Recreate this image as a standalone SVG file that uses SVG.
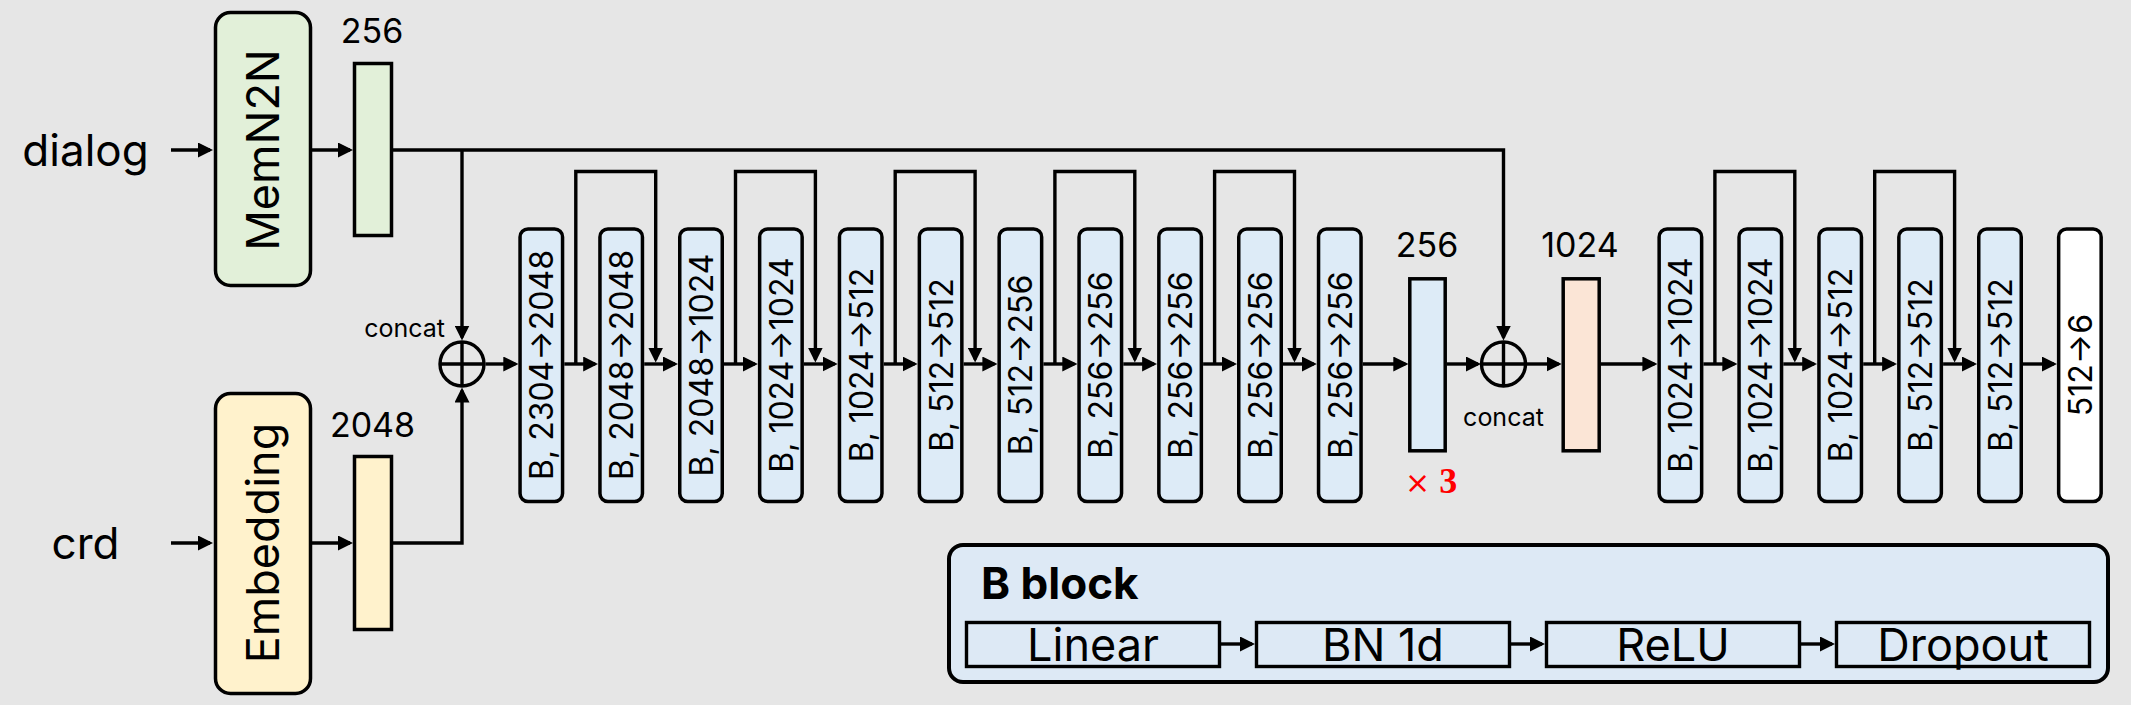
<svg xmlns="http://www.w3.org/2000/svg" width="2131" height="705" viewBox="0 0 2131 705">
<defs>
<style>
.t{font-family:Inter,"Noto Sans","Liberation Sans",sans-serif;fill:#000}
.big{font-size:44px}
.lab{font-size:34px;text-anchor:middle}
.bt{font-size:32px;text-anchor:middle}
.cc{font-size:25px}
.bb{stroke:#000;stroke-width:3.5;fill:#ddebf7}
.vec{stroke:#000;stroke-width:3.5}
.ln{fill:none;stroke:#000;stroke-width:3.4}
.sub{fill:none;stroke:#000;stroke-width:3.4}
</style>
<marker id="ah" viewBox="0 0 15 15" refX="12" refY="7.5" markerWidth="15" markerHeight="15" markerUnits="userSpaceOnUse" orient="auto">
<path d="M0,0 L15,7.5 L0,15 z" fill="#000"/>
</marker>
</defs>
<rect width="2131" height="705" fill="#e6e6e6"/>

<g id="inputs">
<text class="t big" x="85.5" y="166" text-anchor="middle">dialog</text>
<text class="t big" x="85.5" y="559" text-anchor="middle">crd</text>
</g>

<g id="memn2n">
<rect x="215.5" y="12.5" width="95" height="273" rx="15" fill="#e2f0d9" stroke="#000" stroke-width="3.5"/>
<text class="t" font-size="45" text-anchor="middle" transform="translate(263,150) rotate(-90)" y="16">MemN2N</text>
</g>
<g id="embedding">
<rect x="215.5" y="393.5" width="95" height="300" rx="15" fill="#fff2cc" stroke="#000" stroke-width="3.5"/>
<text class="t" font-size="45" text-anchor="middle" transform="translate(263,543) rotate(-90)" y="16">Embedding</text>
</g>

<g id="vec-dialog">
<rect x="354.5" y="63.5" width="37" height="172" fill="#e2f0d9" class="vec"/>
<text class="t lab" x="372" y="43">256</text>
</g>
<g id="vec-crd">
<rect x="354.5" y="456.5" width="37" height="173" fill="#fff2cc" class="vec"/>
<text class="t lab" x="372.5" y="437">2048</text>
</g>

<g id="concat1">
<circle cx="462" cy="364" r="22" fill="none" stroke="#000" stroke-width="3.4"/>
<path d="M462,342 V386 M440,364 H484" class="ln"/>
<text class="t cc" x="445" y="337" text-anchor="end">concat</text>
</g>

<g id="b1"><rect class="bb" x="520.05" y="229" width="42.5" height="272.5" rx="8"/><text class="t bt" transform="translate(541.3,365) rotate(-90)" y="12">B, 2304→2048</text></g>
<g id="b2"><rect class="bb" x="599.95" y="229" width="42.5" height="272.5" rx="8"/><text class="t bt" transform="translate(621.2,365) rotate(-90)" y="12">B, 2048→2048</text></g>
<g id="b3"><rect class="bb" x="679.75" y="229" width="42.5" height="272.5" rx="8"/><text class="t bt" transform="translate(701,365) rotate(-90)" y="12">B, 2048→1024</text></g>
<g id="b4"><rect class="bb" x="759.65" y="229" width="42.5" height="272.5" rx="8"/><text class="t bt" transform="translate(780.9,365) rotate(-90)" y="12">B, 1024→1024</text></g>
<g id="b5"><rect class="bb" x="839.45" y="229" width="42.5" height="272.5" rx="8"/><text class="t bt" transform="translate(860.7,365) rotate(-90)" y="12">B, 1024→512</text></g>
<g id="b6"><rect class="bb" x="919.35" y="229" width="42.5" height="272.5" rx="8"/><text class="t bt" transform="translate(940.6,365) rotate(-90)" y="12">B, 512→512</text></g>
<g id="b7"><rect class="bb" x="999.15" y="229" width="42.5" height="272.5" rx="8"/><text class="t bt" transform="translate(1020.4,365) rotate(-90)" y="12">B, 512→256</text></g>
<g id="b8"><rect class="bb" x="1079.05" y="229" width="42.5" height="272.5" rx="8"/><text class="t bt" transform="translate(1100.3,365) rotate(-90)" y="12">B, 256→256</text></g>
<g id="b9"><rect class="bb" x="1158.85" y="229" width="42.5" height="272.5" rx="8"/><text class="t bt" transform="translate(1180.1,365) rotate(-90)" y="12">B, 256→256</text></g>
<g id="b10"><rect class="bb" x="1238.75" y="229" width="42.5" height="272.5" rx="8"/><text class="t bt" transform="translate(1260,365) rotate(-90)" y="12">B, 256→256</text></g>
<g id="b11"><rect class="bb" x="1318.55" y="229" width="42.5" height="272.5" rx="8"/><text class="t bt" transform="translate(1339.8,365) rotate(-90)" y="12">B, 256→256</text></g>

<g id="vec-256">
<rect x="1409.8" y="278.8" width="35.4" height="172" fill="#ddebf7" class="vec"/>
<text class="t lab" x="1427" y="257">256</text>
<text x="1405" y="493" fill="#ff0000"><tspan font-family="'DejaVu Sans',sans-serif" font-size="30">×</tspan><tspan font-family="'Liberation Serif',serif" font-weight="bold" font-size="36"> 3</tspan></text>
</g>

<g id="concat2">
<circle cx="1503.5" cy="364" r="22" fill="none" stroke="#000" stroke-width="3.4"/>
<path d="M1503.5,342 V386 M1481.5,364 H1525.5" class="ln"/>
<text class="t cc" x="1503.5" y="426" text-anchor="middle">concat</text>
</g>

<g id="vec-1024">
<rect x="1563.2" y="278.8" width="36" height="172" fill="#fbe5d6" class="vec"/>
<text class="t lab" x="1580" y="257">1024</text>
</g>

<g id="b12"><rect class="bb" x="1659.15" y="229" width="42.5" height="272.5" rx="8"/><text class="t bt" transform="translate(1680.4,365) rotate(-90)" y="12">B, 1024→1024</text></g>
<g id="b13"><rect class="bb" x="1739.05" y="229" width="42.5" height="272.5" rx="8"/><text class="t bt" transform="translate(1760.3,365) rotate(-90)" y="12">B, 1024→1024</text></g>
<g id="b14"><rect class="bb" x="1818.95" y="229" width="42.5" height="272.5" rx="8"/><text class="t bt" transform="translate(1840.2,365) rotate(-90)" y="12">B, 1024→512</text></g>
<g id="b15"><rect class="bb" x="1898.85" y="229" width="42.5" height="272.5" rx="8"/><text class="t bt" transform="translate(1920.1,365) rotate(-90)" y="12">B, 512→512</text></g>
<g id="b16"><rect class="bb" x="1978.75" y="229" width="42.5" height="272.5" rx="8"/><text class="t bt" transform="translate(2000,365) rotate(-90)" y="12">B, 512→512</text></g>
<g id="out"><rect x="2058.65" y="229" width="42.5" height="272.5" rx="8" fill="#fff" stroke="#000" stroke-width="3.5"/><text class="t bt" transform="translate(2079.9,365) rotate(-90)" y="12">512→6</text></g>

<g id="bblock">
<rect x="949" y="545" width="1159" height="137" rx="14" fill="#dde9f5" stroke="#000" stroke-width="4"/>
<text class="t" font-size="44" font-weight="bold" x="981" y="599">B block</text>
<rect class="sub" x="966.5" y="622.5" width="253" height="44"/>
<text class="t" font-size="45" text-anchor="middle" x="1093" y="661">Linear</text>
<rect class="sub" x="1256.5" y="622.5" width="253" height="44"/>
<text class="t" font-size="45" text-anchor="middle" x="1383" y="661">BN 1d</text>
<rect class="sub" x="1546.5" y="622.5" width="253" height="44"/>
<text class="t" font-size="45" text-anchor="middle" x="1673" y="661">ReLU</text>
<rect class="sub" x="1836.5" y="622.5" width="253" height="44"/>
<text class="t" font-size="45" text-anchor="middle" x="1963" y="661">Dropout</text>
<path class="ln" marker-end="url(#ah)" d="M1221,644 H1252"/>
<path class="ln" marker-end="url(#ah)" d="M1511,644 H1542"/>
<path class="ln" marker-end="url(#ah)" d="M1801,644 H1832"/>
</g>

<g id="connectors" class="ln">
<path marker-end="url(#ah)" d="M171,150 H210"/>
<path marker-end="url(#ah)" d="M312,150 H350"/>
<path marker-end="url(#ah)" d="M393,150 H1503.5 V337.5"/>
<path marker-end="url(#ah)" d="M462,150 V337.5"/>
<path marker-end="url(#ah)" d="M171,543 H210"/>
<path marker-end="url(#ah)" d="M312,543 H350"/>
<path marker-end="url(#ah)" d="M393,543 H462 V390.5"/>
<path marker-end="url(#ah)" d="M485.5,364 H515.3"/>
<path marker-end="url(#ah)" d="M564.3,364 H595.2"/>
<path marker-end="url(#ah)" d="M644.2,364 H675"/>
<path marker-end="url(#ah)" d="M724,364 H754.9"/>
<path marker-end="url(#ah)" d="M803.9,364 H834.7"/>
<path marker-end="url(#ah)" d="M883.7,364 H914.6"/>
<path marker-end="url(#ah)" d="M963.6,364 H994.4"/>
<path marker-end="url(#ah)" d="M1043.4,364 H1074.3"/>
<path marker-end="url(#ah)" d="M1123.3,364 H1154.1"/>
<path marker-end="url(#ah)" d="M1203.1,364 H1234"/>
<path marker-end="url(#ah)" d="M1283,364 H1313.8"/>
<path marker-end="url(#ah)" d="M1362.8,364 H1405.3"/>
<path marker-end="url(#ah)" d="M1446.7,364 H1478"/>
<path marker-end="url(#ah)" d="M1527,364 H1558.7"/>
<path marker-end="url(#ah)" d="M1600.7,364 H1654.4"/>
<path marker-end="url(#ah)" d="M1703.4,364 H1734.3"/>
<path marker-end="url(#ah)" d="M1783.3,364 H1814.2"/>
<path marker-end="url(#ah)" d="M1863.2,364 H1894.1"/>
<path marker-end="url(#ah)" d="M1943.1,364 H1974"/>
<path marker-end="url(#ah)" d="M2023,364 H2053.9"/>
<path marker-end="url(#ah)" d="M575.8,364 V171.5 H655.7 V359.5"/>
<path marker-end="url(#ah)" d="M735.5,364 V171.5 H815.4 V359.5"/>
<path marker-end="url(#ah)" d="M895.2,364 V171.5 H975.1 V359.5"/>
<path marker-end="url(#ah)" d="M1054.9,364 V171.5 H1134.8 V359.5"/>
<path marker-end="url(#ah)" d="M1214.6,364 V171.5 H1294.5 V359.5"/>
<path marker-end="url(#ah)" d="M1714.9,364 V171.5 H1794.8 V359.5"/>
<path marker-end="url(#ah)" d="M1874.7,364 V171.5 H1954.6 V359.5"/>
</g>
</svg>
